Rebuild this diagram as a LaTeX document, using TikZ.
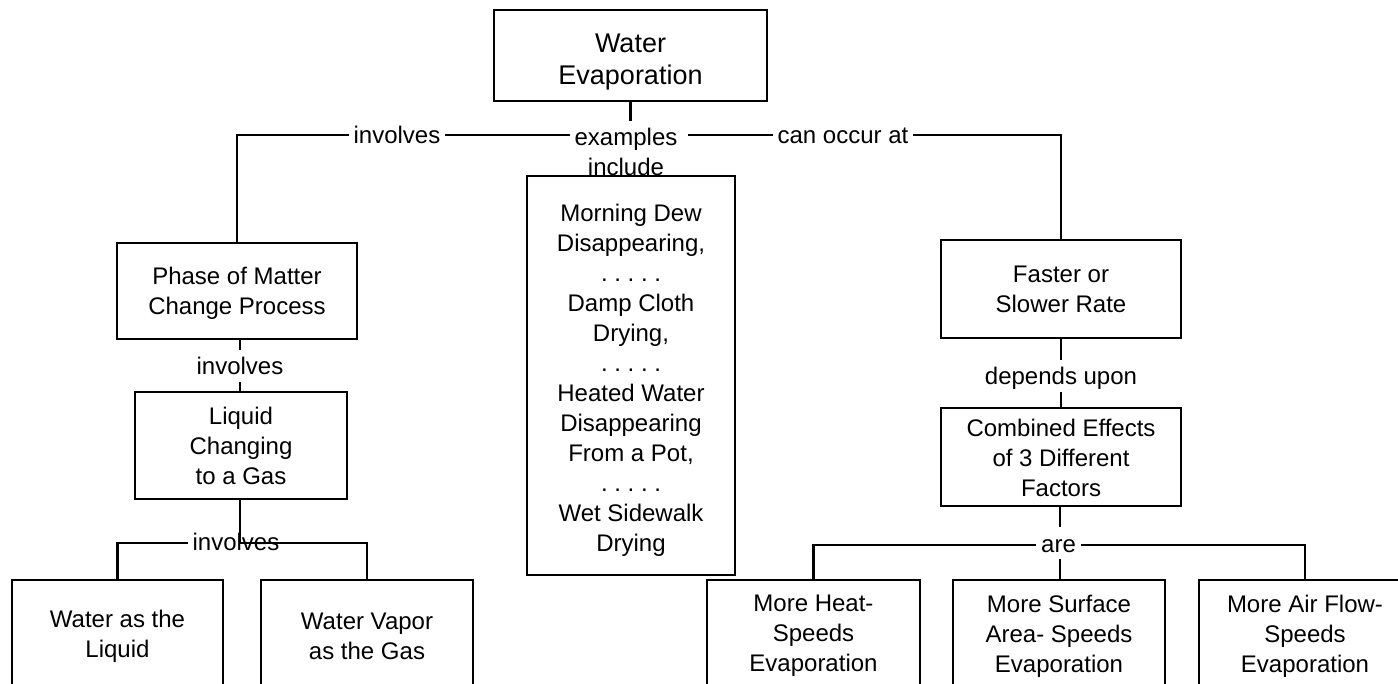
\documentclass[tikz,border=0pt]{standalone}
\usepackage{fontspec}
\setmainfont{Liberation Sans}
\begin{document}
\frenchspacing
\begin{tikzpicture}[x=1pt,y=-1pt,
  box/.style={draw, line width=2.4pt, align=center, inner sep=0pt, font=\fontsize{24}{30}\selectfont},
  lbl/.style={inner xsep=2pt, inner ysep=2pt, outer sep=3pt, text height=20pt, text depth=2pt, font=\fontsize{24}{30}\selectfont},
  exlbl/.style={inner sep=2pt, outer sep=3pt, align=center, font=\fontsize{24}{30}\selectfont},
  conn/.style={line width=2.4pt},
  thinconn/.style={line width=2pt}]
\useasboundingbox (0,0) rectangle (1398,684);
\clip (0,0) rectangle (1398,684);
% boxes
\node[box, minimum width=273pt, minimum height=91pt, font=\fontsize{27}{32}\selectfont] (top) at (630.5,55.5) {\rule{0pt}{31pt}Water\\Evaporation};
\node[box, minimum width=240pt, minimum height=96pt] (phase) at (237,291) {\rule{0pt}{21.5pt}Phase of Matter\\Change Process};
\node[box, minimum width=212pt, minimum height=107pt] (liquid) at (241,445.5) {Liquid\\Changing\\to a Gas};
\node[box, minimum width=211pt, minimum height=112pt] (wliq) at (117.5,636) {Water as the\\Liquid};
\node[box, minimum width=212pt, minimum height=112pt] (vapor) at (367,636) {Water Vapor\\as the Gas};
\node[box, minimum width=208pt, minimum height=399pt] (list) at (631,375.5) {\rule{0pt}{26pt}Morning Dew\\Disappearing,\\. . . . .\\Damp Cloth\\Drying,\\. . . . .\\Heated Water\\Disappearing\\From a Pot,\\. . . . .\\Wet Sidewalk\\Drying};
\node[box, minimum width=240pt, minimum height=98pt] (faster) at (1061,289) {Faster or\\Slower Rate};
\node[box, minimum width=240pt, minimum height=98pt] (comb) at (1061,457) {\rule{0pt}{20pt}Combined Effects\\of 3 Different\\Factors};
\node[box, minimum width=213pt, minimum height=112pt] (heat) at (813.5,636) {More Heat-\\Speeds\\Evaporation};
\node[box, minimum width=212pt, minimum height=112pt] (surf) at (1059,636) {More Surface\\Area- Speeds\\Evaporation};
\node[box, minimum width=212pt, minimum height=112pt] (air) at (1305,636) {More Air Flow-\\Speeds\\Evaporation};
% labels
\node[lbl] (inv1) at (397,135) {involves};
\node[lbl] (occ) at (843,135) {can occur at};
\node[exlbl, anchor=north] (ex) at (626,121) {\rule{0pt}{19.5pt}examples\\include};
\node[lbl] (inv2) at (240,366) {involves};
\node[lbl] (dep) at (1061,376) {depends upon};
\node[lbl] (inv3) at (236,541) {involves};
\node[lbl] (are) at (1058.5,543) {are};
\coordinate (j3) at (240,543);
\coordinate (j4) at (1060,545);
% connectors
\draw[conn] (top.south) -- (top.south |- ex.north);
\draw[thinconn] (phase.north) |- (inv1.west);
\draw[thinconn] (inv1.east) -- (inv1.east -| ex.west);
\draw[thinconn] ([xshift=6pt]ex.east |- occ.west) -- (occ.west);
\draw[thinconn] (occ.east) -| (faster.north);
\draw[conn] (phase.south -| inv2.north) -- (inv2.north);
\draw[conn] (inv2.south) -- (inv2.south |- liquid.north);
\draw[conn] (faster.south) -- (dep.north);
\draw[conn] (dep.south) -- (comb.north);
\draw[conn] (liquid.south -| j3) -- (j3) -| (vapor.north);
\draw[conn] (wliq.north) |- (inv3.west |- j3);
\draw[conn] (comb.south -| j4) -- (are.north -| j4);
\draw[conn] (are.south -| j4) -- (surf.north -| j4);
\draw[conn] (heat.north) |- (are.west |- j4);
\draw[conn] (are.east |- j4) -| (air.north);
\end{tikzpicture}
\end{document}
